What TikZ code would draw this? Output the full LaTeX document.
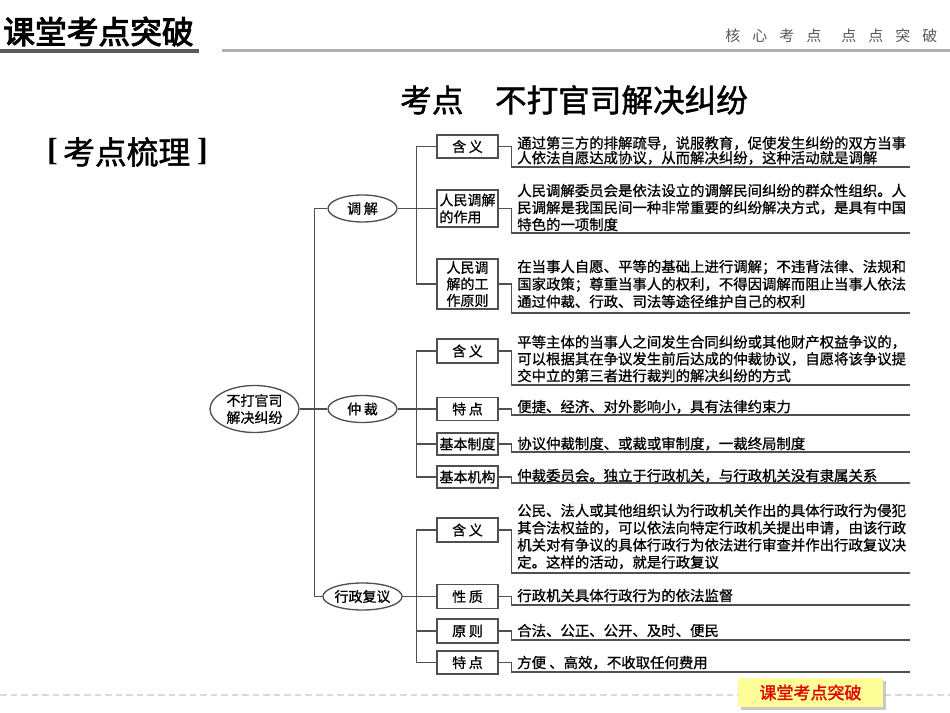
\documentclass[tikz,border=0pt]{standalone}
\usepackage{fontspec}
\setmainfont{Noto Sans CJK SC}
\newfontfamily\cjkH[FakeBold=3]{Noto Sans CJK SC}
\newfontfamily\cjkT[FakeBold=1.5]{Noto Sans CJK SC}
\newfontfamily\cjkR[FakeBold=0.8]{Noto Sans CJK SC}
\newfontfamily\cjkL{Noto Sans CJK SC}
\newfontfamily\serifB{Liberation Serif}
\usetikzlibrary{shapes.geometric,shadows}
\definecolor{ln}{HTML}{505050}
\definecolor{hdark}{HTML}{5A5A5A}
\definecolor{hlight}{HTML}{B0B0B0}
\definecolor{footy}{HTML}{FFFF99}
\definecolor{footr}{HTML}{E00000}
\newcommand\llines[2]{\vtop{\baselineskip=#1\lineskiplimit=-\maxdimen\lineskip=0pt\halign{##\hfil\cr#2\crcr}}}
\newcommand\clines[2]{\vtop{\baselineskip=#1\lineskiplimit=-\maxdimen\lineskip=0pt\halign{\hfil##\hfil\cr#2\crcr}}}
\begin{document}
\begin{tikzpicture}[x=0.75pt,y=-0.75pt,
  lk/.style={draw=ln,line width=1pt},
  bx/.style={draw=ln,line width=1pt,rectangle,minimum width=45.75pt,inner sep=0pt,
    font=\cjkR\fontsize{10.5}{12.6}\selectfont},
  el/.style={draw=ln,line width=1pt,ellipse,inner sep=0pt,minimum width=51.75pt,
    minimum height=20.25pt,font=\cjkR\fontsize{10.5}{12.6}\selectfont},
  tx/.style={anchor=base west,inner sep=0pt,font=\cjkR\fontsize{10.8}{12.75}\selectfont}]
\useasboundingbox (0,0) rectangle (950,713);
\fill[white] (0,0) rectangle (950,713);

% header
\node[anchor=west,inner sep=0pt,font=\cjkH\fontsize{23.8}{24}\selectfont] (hd) at (3,31.5) {课堂考点突破};
\draw[hdark,line width=3pt] (0,51) -- (199,51);
\draw[hlight,line width=2.25pt] (222,50.5) -- (950,50.5);
\node[anchor=west,inner sep=0pt,text=black!65,font=\cjkL\fontsize{11.25}{12}\selectfont] (hr) at (725,36)
  {核\hspace{9pt}心\hspace{9pt}考\hspace{9pt}点\hspace{15pt}点\hspace{9pt}点\hspace{9pt}突\hspace{9pt}破};

% title
\node[anchor=west,inner sep=0pt,font=\cjkT\fontsize{23.7}{24}\selectfont] (title) at (400,100) {考点　不打官司解决纠纷};
\node[inner sep=0pt,font=\serifB\bfseries\fontsize{24}{24}\selectfont] (lbr) at (52.5,152) {[};
\node[anchor=west,inner sep=0pt,font=\cjkT\fontsize{23.8}{24}\selectfont] (kd) at (63,152) {考点梳理};
\node[inner sep=0pt,font=\serifB\bfseries\fontsize{24}{24}\selectfont] (rbr) at (202.5,152) {]};

% root and level 1
\node[el,minimum width=66.75pt,minimum height=35.25pt] (root) at (254.5,409) {\clines{12.75pt}{不打官司\cr 解决纠纷}};
\node[el] (tj) at (362.5,208.5) {调\kern2pt 解};
\node[el] (zc) at (362.5,409) {仲\kern2pt 裁};
\node[el] (xz) at (362.5,596.5) {行政复议};
\draw[lk] (root.east) -- (zc.west);
\draw[lk] (tj.west) -- ++(-13,0) |- (xz.west);

% 调解 boxes
\node[bx,minimum height=17.25pt] (a1) at (467.5,146.5) {含\kern2pt 义};
\node[bx,minimum height=27.75pt] (a2) at (467.5,208.5) {\llines{12.75pt}{人民调解\cr 的作用}};
\node[bx,minimum height=37.5pt] (a3) at (467.5,284) {\clines{12.4pt}{人民调\cr 解的工\cr 作原则}};
\draw[lk] (tj.east) -- (a2.west);
\draw[lk] (a1.west) -- ++(-20,0) |- (a3.west);

% 仲裁 boxes
\node[bx,minimum height=18pt] (b1) at (467.5,351) {含\kern2pt 义};
\node[bx,minimum height=17.5pt] (b2) at (467.5,409) {特\kern2pt 点};
\node[bx,minimum height=16.5pt] (b3) at (467.5,444) {基本制度};
\node[bx,minimum height=16.5pt] (b4) at (467.5,477) {基本机构};
\draw[lk] (zc.east) -- (b2.west);
\draw[lk] (b1.west) -- ++(-20,0) |- (b4.west);
\draw[lk] (b3.west) -- ++(-20,0);

% 行政复议 boxes
\node[bx,minimum height=18pt] (c1) at (467.5,530) {含\kern2pt 义};
\node[bx,minimum height=18pt] (c2) at (467.5,596.5) {性\kern2pt 质};
\node[bx,minimum height=18pt] (c3) at (467.5,631) {原\kern2pt 则};
\node[bx,minimum height=17.25pt] (c4) at (467.5,662.5) {特\kern2pt 点};
\draw[lk] (xz.east) -- (c2.west);
\draw[lk] (c1.west) -- ++(-20,0) |- (c4.west);
\draw[lk] (c3.west) -- ++(-20,0);

% texts
\node[tx] (t1) at (517,148.5) {\llines{11pt}{通过第三方的排解疏导，说服教育，促使发生纠纷的双方当事\cr 人依法自愿达成协议，从而解决纠纷，这种活动就是调解}};
\node[tx] (t2) at (517,196) {\llines{12.75pt}{人民调解委员会是依法设立的调解民间纠纷的群众性组织。人\cr 民调解是我国民间一种非常重要的纠纷解决方式，是具有中国\cr 特色的一项制度}};
\node[tx] (t3) at (517,272) {\llines{13.1pt}{在当事人自愿、平等的基础上进行调解；不违背法律、法规和\cr 国家政策；尊重当事人的权利，不得因调解而阻止当事人依法\cr 通过仲裁、行政、司法等途径维护自己的权利}};
\node[tx] (t4) at (517,347.5) {\llines{12.6pt}{平等主体的当事人之间发生合同纠纷或其他财产权益争议的，\cr 可以根据其在争议发生前后达成的仲裁协议，自愿将该争议提\cr 交中立的第三者进行裁判的解决纠纷的方式}};
\node[tx] (t5) at (517,412) {便捷、经济、对外影响小，具有法律约束力};
\node[tx] (t6) at (517,449) {协议仲裁制度、或裁或审制度，一裁终局制度};
\node[tx] (t7) at (517,481) {仲裁委员会。独立于行政机关，与行政机关没有隶属关系};
\node[tx] (t8) at (517,516) {\llines{12.9pt}{公民、法人或其他组织认为行政机关作出的具体行政行为侵犯\cr 其合法权益的，可以依法向特定行政机关提出申请，由该行政\cr 机关对有争议的具体行政行为依法进行审查并作出行政复议决\cr 定。这样的活动，就是行政复议}};
\node[tx] (t9) at (517,601) {行政机关具体行政行为的依法监督};
\node[tx] (t10) at (517,636) {合法、公正、公开、及时、便民};
\node[tx] (t11) at (517,668) {方便 、高效，不收取任何费用};

% underline brackets
\coordinate (u1) at (910,167);
\coordinate (u2) at (910,233);
\coordinate (u3) at (910,313);
\coordinate (u4) at (910,385);
\coordinate (u5) at (910,415);
\coordinate (u6) at (910,452);
\coordinate (u7) at (910,483);
\coordinate (u8) at (910,573);
\coordinate (u9) at (910,605);
\coordinate (u10) at (910,640);
\coordinate (u11) at (910,672);
\draw[lk] (a1.east) -- ++(13,0) |- (u1);
\draw[lk] (a2.east) -- ++(13,0) |- (u2);
\draw[lk] (a3.east) -- ++(13,0) |- (u3);
\draw[lk] (b1.east) -- ++(13,0) |- (u4);
\draw[lk] (b2.east) -- ++(13,0) |- (u5);
\draw[lk] (b3.east) -- ++(13,0) |- (u6);
\draw[lk] (b4.east) -- ++(13,0) |- (u7);
\draw[lk] (c1.east) -- ++(13,0) |- (u8);
\draw[lk] (c2.east) -- ++(13,0) |- (u9);
\draw[lk] (c3.east) -- ++(13,0) |- (u10);
\draw[lk] (c4.east) -- ++(13,0) |- (u11);

% footer
\draw[black!15,line width=1.5pt,dash pattern=on 4.9pt off 3pt] (0,695) -- (950,695);
\node[fill=footy,minimum width=108.75pt,minimum height=21.75pt,inner sep=0pt,
  drop shadow={shadow xshift=2.25pt,shadow yshift=-2.25pt,fill=black!35,opacity=0.6},
  text=footr,font=\cjkT\fontsize{12.75}{13}\selectfont] (foot) at (810.5,692.5) {课堂考点突破};
\end{tikzpicture}
\end{document}
